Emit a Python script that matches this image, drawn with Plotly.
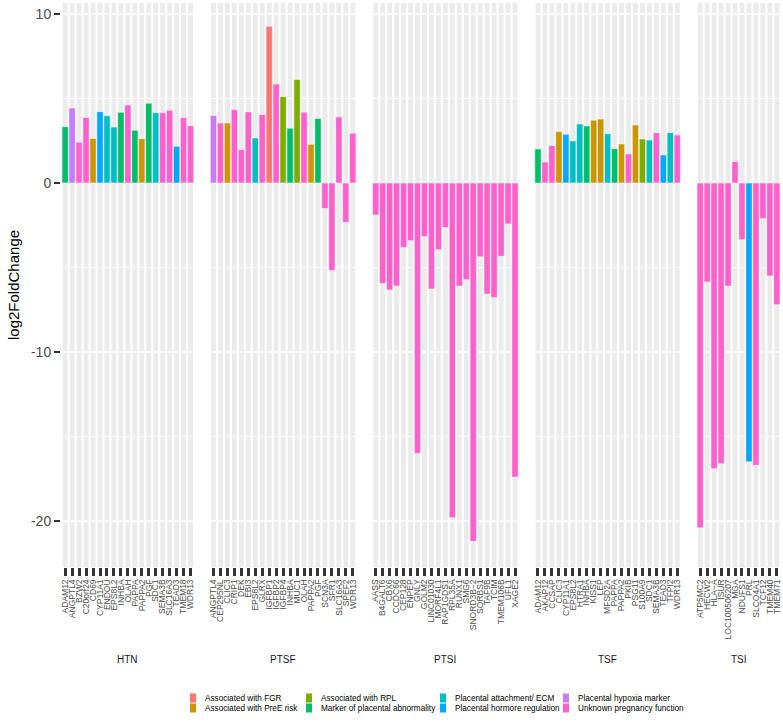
import plotly.graph_objects as go
from plotly.subplots import make_subplots

# ---------------- data ----------------
CAT_NAMES = {
    "FGR": "Associated with FGR",
    "PREE": "Associated with PreE risk",
    "RPL": "Associated with RPL",
    "MARK": "Marker of placental abnormality",
    "ECM": "Placental attachment/ ECM",
    "HORM": "Placental hormore regulation",
    "HYP": "Placental hypoxia marker",
    "UNK": "Unknown pregnancy function",
}
CAT_COLORS = {
    "FGR": "#F8766D", "PREE": "#CD9600", "RPL": "#7CAE00", "MARK": "#00BE67",
    "ECM": "#00BFC4", "HORM": "#00A9FF", "HYP": "#C77CFF", "UNK": "#FF61CC",
}
LEGEND_ORDER = ["FGR", "PREE", "RPL", "MARK", "ECM", "HORM", "HYP", "UNK"]

htn_genes = ["ADAM12", "ANGPTL4", "BZW2", "C20orf24", "CD69", "CYP11A1", "ENDOU", "EPS8L2",
             "INHBA", "OLAH", "PAPPA", "PAPPA2", "PGF", "SDC1", "SEMA3B", "SLC16A3", "TEAD3",
             "TMEM18", "WDR13"]
htn_lfc = [3.33, 4.44, 2.41, 3.87, 2.64, 4.22, 3.98, 3.31, 4.18, 4.62, 3.12, 2.62, 4.72,
           4.16, 4.16, 4.30, 2.17, 3.87, 3.39]
htn_cat = ["MARK", "HYP", "UNK", "UNK", "PREE", "HORM", "ECM", "ECM", "MARK", "UNK", "MARK",
           "PREE", "MARK", "ECM", "UNK", "UNK", "HORM", "UNK", "UNK"]

ptsf_genes = ["ANGPTL4", "CEP295NL", "CLIC3", "CRIP1", "DEK", "EBI3", "EPS8L2", "GLRX",
              "IGFBP1", "IGFBP2", "IGFBP4", "INHBA", "MUC1", "OLAH", "PAPPA2", "PGF", "SCN3A",
              "SFR1", "SLC16A3", "SPEF2", "WDR13"]
ptsf_lfc = [3.99, 3.55, 3.55, 4.34, 1.98, 4.20, 2.66, 4.05, 9.27, 5.86, 5.11, 3.24, 6.12,
            4.18, 2.29, 3.81, -1.51, -5.17, 3.91, -2.33, 2.94]
ptsf_cat = ["HYP", "UNK", "PREE", "UNK", "UNK", "UNK", "ECM", "UNK", "FGR", "UNK", "RPL",
            "MARK", "RPL", "UNK", "PREE", "MARK", "UNK", "UNK", "UNK", "UNK", "UNK"]

ptsi_genes = ["AASS", "B4GALT6", "CBX6", "CCDC66", "CEP128", "ENPEP", "GNLY", "GOLM2",
              "LINC01030", "MORF4L1", "RAP1GDS1", "RPL35A", "RUNX1", "SMG6", "SNORD3B−2",
              "SORBS1", "TAF9B", "TCIM", "TMEM106B", "UFL1", "XAGE2"]
ptsi_lfc = [-1.89, -5.94, -6.33, -6.09, -3.81, -3.41, -16.0, -3.17, -6.27, -3.95, -2.64,
            -19.8, -6.10, -5.72, -21.2, -4.37, -6.57, -6.77, -4.34, -2.42, -17.4]
ptsi_cat = ["UNK"] * 21

tsf_genes = ["ADAM12", "AKAP12", "CCSAP", "CLIC3", "CYP11A1", "EPS8L2", "HTRA1", "INHBA",
             "KISS1", "LEP", "MFSD2A", "PAPPA", "PAPPA2", "PKIB", "PSG11", "S100A9", "SDC1",
             "SEMA3B", "TEAD3", "TFPI2", "WDR13"]
tsf_lfc = [2.01, 1.24, 2.21, 3.04, 2.88, 2.49, 3.49, 3.37, 3.72, 3.78, 2.92, 2.03, 2.31,
           1.72, 3.43, 2.60, 2.54, 2.98, 1.66, 2.98, 2.84]
tsf_cat = ["MARK", "UNK", "UNK", "PREE", "HORM", "ECM", "ECM", "MARK", "PREE", "PREE", "ECM",
           "MARK", "PREE", "UNK", "PREE", "RPL", "ECM", "UNK", "HORM", "ECM", "UNK"]

tsi_genes = ["ATP5MC2", "HECW2", "HLA−A", "ISUR", "LOC100506207", "MGA", "NDUFS1", "PRL",
             "SLCO4A1", "TCF12", "TMEM40", "TMEM71"]
tsi_lfc = [-20.4, -5.86, -16.9, -16.6, -6.10, 1.27, -3.35, -16.5, -16.7, -2.10, -5.50, -7.20]
tsi_cat = ["UNK", "UNK", "UNK", "UNK", "UNK", "UNK", "UNK", "HORM", "UNK", "UNK", "UNK", "UNK"]

panel_names = ["HTN", "PTSF", "PTSI", "TSF", "TSI"]
panel_genes = [htn_genes, ptsf_genes, ptsi_genes, tsf_genes, tsi_genes]
panel_lfc = [htn_lfc, ptsf_lfc, ptsi_lfc, tsf_lfc, tsi_lfc]
panel_cat = [htn_cat, ptsf_cat, ptsi_cat, tsf_cat, tsi_cat]

y_ticks = [-20, -10, 0, 10]
y_ticktext = ["-20", "-10", "0", "10"]
y_minor = [-15, -5, 5]
Y_RANGE = [-22.72, 10.65]

# ---------------- layout ----------------
W, H = 783, 722
ML, MR, MT, MB = 61, 2, 3, 155
PW = W - ML - MR
PH = H - MT - MB
GAP = 14.6
FONT = "Liberation Sans, Arial, Helvetica, sans-serif"

widths = [len(g) + 0.2 for g in panel_genes]
fig = make_subplots(rows=1, cols=5, shared_yaxes=True, column_widths=widths,
                    horizontal_spacing=GAP / PW)

for k, (genes, lfc, cats) in enumerate(zip(panel_genes, panel_lfc, panel_cat)):
    fig.add_trace(go.Bar(
        x=genes, y=lfc, width=0.9,
        marker=dict(color=[CAT_COLORS[c] for c in cats], line=dict(color="white", width=0.5)),
        customdata=[CAT_NAMES[c] for c in cats],
        hovertemplate="%{x}<br>%{y}<br>%{customdata}<extra></extra>",
        showlegend=False,
    ), row=1, col=k + 1)
    n = len(genes)
    xr = "x" if k == 0 else f"x{k+1}"
    yr = "y" if k == 0 else f"y{k+1}"
    # grey category stripes
    for j in range(n):
        fig.add_shape(type="rect", xref=xr, yref=f"{yr} domain", x0=j - 0.35, x1=j + 0.35,
                      y0=0, y1=1, fillcolor="#EBEBEB", line_width=0, layer="below")
    # white horizontal grid lines on top of stripes
    for v in y_minor:
        fig.add_shape(type="line", xref=f"{xr} domain", yref=yr, x0=0, x1=1, y0=v, y1=v,
                      line=dict(color="white", width=0.8), layer="below")
    for v in y_ticks:
        fig.add_shape(type="line", xref=f"{xr} domain", yref=yr, x0=0, x1=1, y0=v, y1=v,
                      line=dict(color="white", width=1.6), layer="below")
    fig.update_xaxes(type="category", range=[-0.6, n - 0.4], tickangle=-90,
                     tickmode="linear", tick0=0, dtick=1,
                     tickfont=dict(size=8.5, color="#4D4D4D", family=FONT),
                     ticks="outside", ticklen=8, tickwidth=3, tickcolor="#333333",
                     showgrid=False, zeroline=False, showline=False, automargin=False,
                     row=1, col=k + 1)
    fig.update_yaxes(range=Y_RANGE, tickmode="array", tickvals=y_ticks,
                     ticktext=y_ticktext, showgrid=False, zeroline=False, showline=False,
                     automargin=False, row=1, col=k + 1)

fig.update_yaxes(ticks="outside", ticklen=6, tickwidth=2, tickcolor="#333333",
                 tickfont=dict(size=14, color="#4D4D4D", family=FONT),
                 row=1, col=1)


def px_to_paper_x(px):
    return (px - ML) / PW


def px_to_paper_y(py):
    return (MT + PH - py) / PH


# y-axis title
fig.add_annotation(text="log2FoldChange", x=px_to_paper_x(13), y=px_to_paper_y(285),
                   xref="paper", yref="paper", showarrow=False, textangle=-90,
                   xanchor="center", yanchor="middle",
                   font=dict(size=15, color="black", family=FONT))

# strip labels (below)
for k, name in enumerate(panel_names):
    ax = fig.layout["xaxis" if k == 0 else f"xaxis{k+1}"]
    cx = (ax.domain[0] + ax.domain[1]) / 2
    fig.add_annotation(text=name, x=cx, y=px_to_paper_y(659), xref="paper", yref="paper",
                       showarrow=False, xanchor="center", yanchor="middle",
                       font=dict(size=10, color="#1A1A1A", family=FONT))

# legend (2 rows x 4 columns, column-major)
col_x = [193, 309, 443, 566]
row_y = [698, 708]
for i, c in enumerate(LEGEND_ORDER):
    cx = col_x[i // 2]
    cy = row_y[i % 2]
    fig.add_shape(type="rect", xref="paper", yref="paper",
                  x0=px_to_paper_x(cx - 3), x1=px_to_paper_x(cx + 3),
                  y0=px_to_paper_y(cy + 4.5), y1=px_to_paper_y(cy - 4.5),
                  fillcolor=CAT_COLORS[c], line_width=0)
    fig.add_annotation(text=CAT_NAMES[c], x=px_to_paper_x(cx + 10), y=px_to_paper_y(cy),
                       xref="paper", yref="paper", showarrow=False, xanchor="left",
                       yanchor="middle", font=dict(size=8.2, color="black", family=FONT))

fig.update_layout(width=W, height=H, margin=dict(l=ML, r=MR, t=MT, b=MB),
                  plot_bgcolor="white", paper_bgcolor="white", bargap=0.1,
                  font=dict(family=FONT), showlegend=False)

fig.write_html("out.html", config={"displayModeBar": False},
               post_script="document.body.style.margin='0';document.body.style.padding='0';")
